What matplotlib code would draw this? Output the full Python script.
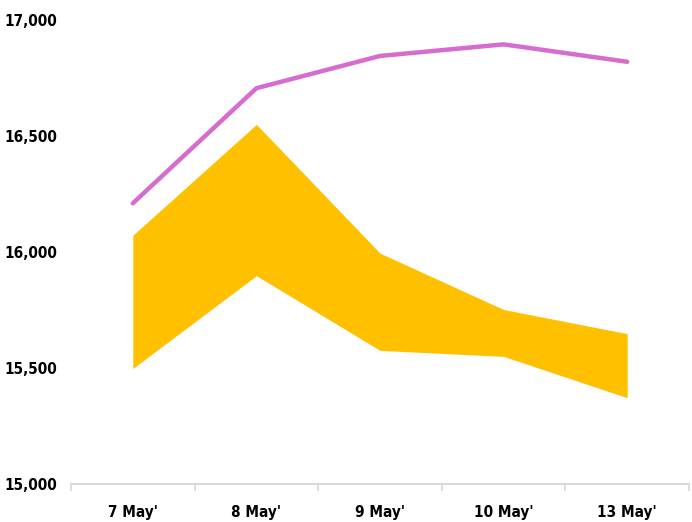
import matplotlib.pyplot as plt
from matplotlib import font_manager
import numpy as np

# данные
dates = ["7 May'", "8 May'", "9 May'", "10 May'", "13 May'"]
pink_line = [16210, 16706, 16845, 16895, 16820]
band_upper = [16072, 16550, 15995, 15752, 15648]
band_lower = [15498, 15898, 15576, 15550, 15372]
y_ticks = [15000, 15500, 16000, 16500, 17000]

# ищем узкий шрифт
names = {f.name for f in font_manager.fontManager.ttflist}
family = 'Liberation Sans Narrow' if 'Liberation Sans Narrow' in names else 'DejaVu Sans'
plt.rcParams['font.family'] = [family, 'DejaVu Sans']
plt.rcParams['font.weight'] = 'bold'
plt.rcParams['font.stretch'] = 'condensed'

fig = plt.figure(figsize=(6.92, 5.22), dpi=100)
ax = fig.add_axes([71 / 692, 1 - 484 / 522, 618 / 692, (484 - 20) / 522])

x = np.arange(len(dates))

# полоса
ax.fill_between(x, band_lower, band_upper, color='#ffc000', linewidth=0)

# линия
ax.plot(x, pink_line, color='#d66bd0', linewidth=3.2, solid_capstyle='round')

ax.set_xlim(-0.5, len(dates) - 0.5)
ax.set_ylim(15000, 17000)

ax.set_yticks(y_ticks)
ax.set_yticklabels([f'{v:,}' for v in y_ticks], fontsize=11, fontweight='bold')

ax.set_xticks(x)
ax.set_xticklabels(dates, fontsize=11, fontweight='bold')
ax.set_xticks(np.arange(-0.5, len(dates)), minor=True)
ax.tick_params(axis='x', which='major', length=0, pad=15)
ax.tick_params(axis='x', which='minor', length=5, color='#d9d9d9', width=1.2)
ax.tick_params(axis='y', length=0, pad=10)

for side in ['top', 'right', 'left']:
    ax.spines[side].set_visible(False)
ax.spines['bottom'].set_color('#d9d9d9')
ax.spines['bottom'].set_linewidth(1.5)
ax.spines['bottom'].set_zorder(0)

fig.savefig('out.png', dpi=100)
